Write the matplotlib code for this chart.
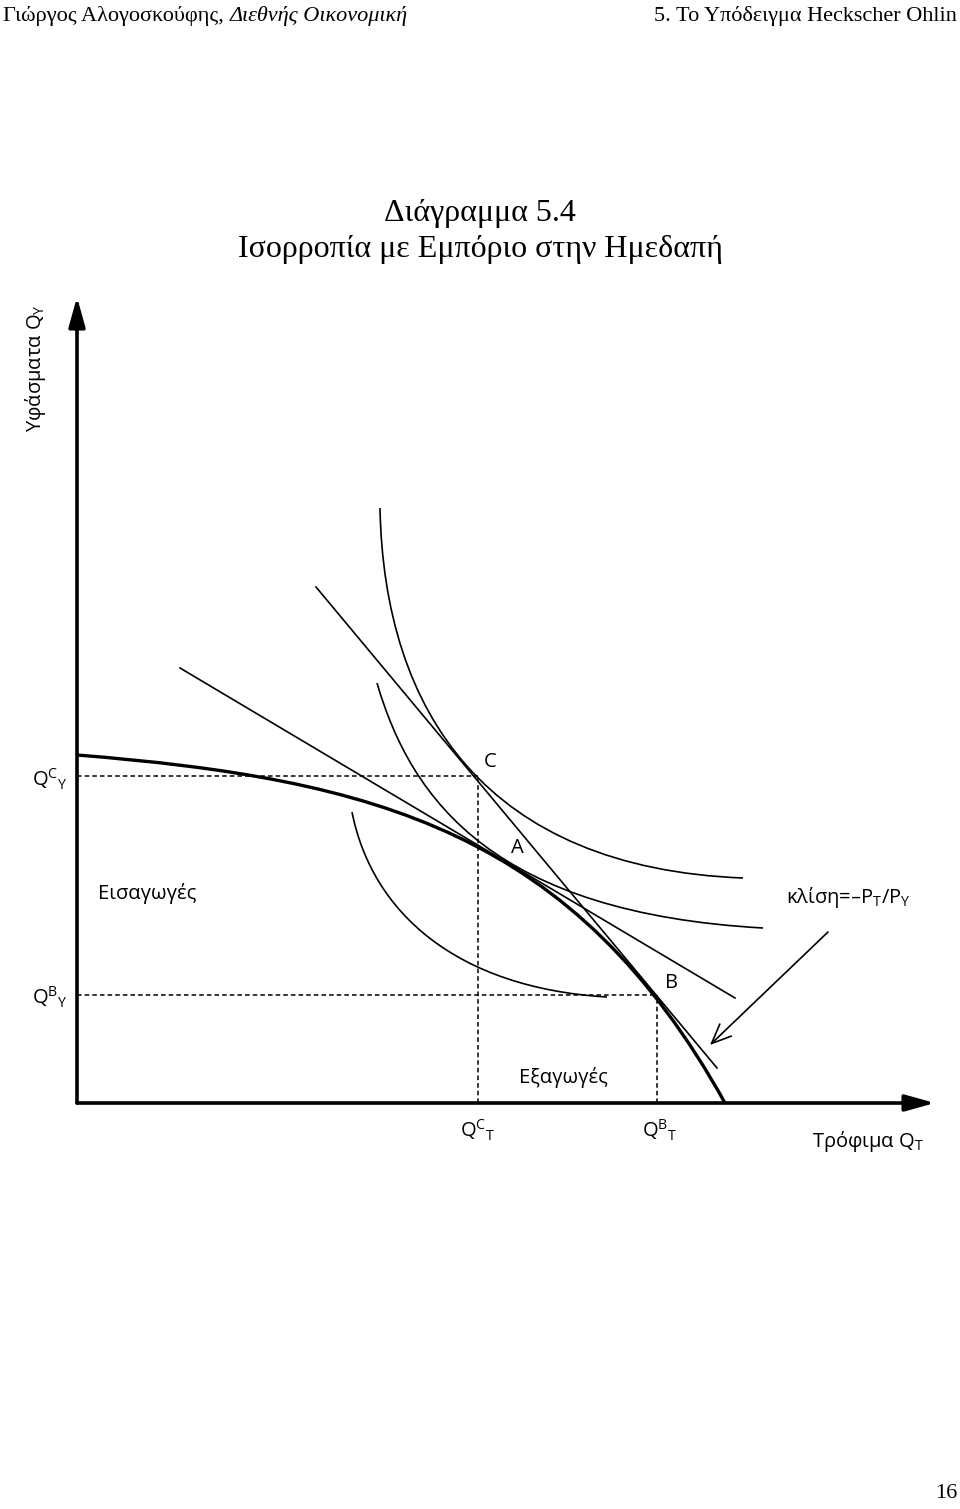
import matplotlib
matplotlib.use("Agg")
import matplotlib.pyplot as plt
from matplotlib.path import Path
from matplotlib.patches import PathPatch

# ---------------- data (schematic units: Q_T horizontal, Q_Y vertical) ----------------
ppf_ctrl = [(0.0, 3.48), (3.0, 3.24), (4.98, 2.70), (6.48, 0.0)]          # production possibility frontier
ic1_ctrl = [(3.03, 5.95), (3.07, 3.90), (4.10, 2.35), (6.66, 2.25)]       # indifference curve through C
ic2_ctrl = [(3.00, 4.20), (3.35, 3.00), (4.20, 1.90), (6.86, 1.75)]       # indifference curve through A
ic3_ctrl = [(2.75, 2.91), (2.95, 1.90), (3.80, 1.15), (5.30, 1.06)]       # lower indifference curve
price_autarky = [(1.03, 4.35), (6.58, 1.05)]
price_trade = [(2.39, 5.16), (6.40, 0.35)]
point_C = (4.01, 3.27)
point_B = (5.80, 1.08)
slope_arrow = [(7.51, 1.71), (6.33, 0.58)]
x_axis_end = 8.58
y_axis_end = 8.06

header_left = "Γιώργος Αλογοσκούφης, "
header_left_it = "Διεθνής Οικονομική"
header_right = "5. Το Υπόδειγμα Heckscher Ohlin"
title1 = "Διάγραμμα 5.4"
title2 = "Ισορροπία με Εμπόριο στην Ημεδαπή"
page_no = "16"

SERIF = ["Liberation Serif", "DejaVu Serif"]
SANS = ["Open Sans", "DejaVu Sans"]

W, H = 960, 1509
fig = plt.figure(figsize=(W / 100, H / 100), dpi=100)
fig.patch.set_facecolor("white")

ax = fig.add_axes([77 / W, (H - 1103) / H, 883 / W, 813 / H])
ax.set_xlim(0, 8.83)
ax.set_ylim(0, 8.13)
ax.axis("off")


def bezier(ctrl, lw):
    path = Path(ctrl, [Path.MOVETO, Path.CURVE4, Path.CURVE4, Path.CURVE4])
    ax.add_patch(PathPatch(path, facecolor="none", edgecolor="black", lw=lw,
                           capstyle="butt", clip_on=False))


# axes with arrows
ax.annotate("", xy=(x_axis_end, 0), xytext=(0, 0), annotation_clip=False,
            arrowprops=dict(arrowstyle="-|>,head_length=0.9,head_width=0.25",
                            lw=2.6, color="black", shrinkA=0, shrinkB=0, mutation_scale=20))
ax.annotate("", xy=(0, y_axis_end), xytext=(0, 0), annotation_clip=False,
            arrowprops=dict(arrowstyle="-|>,head_length=0.9,head_width=0.25",
                            lw=2.6, color="black", shrinkA=0, shrinkB=0, mutation_scale=20))

# dashed guides
dash = dict(color="black", lw=1.1, ls=(0, (3, 2)))
ax.plot([0, point_C[0]], [point_C[1], point_C[1]], **dash)
ax.plot([point_C[0], point_C[0]], [0, point_C[1]], **dash)
ax.plot([0, point_B[0]], [point_B[1], point_B[1]], **dash)
ax.plot([point_B[0], point_B[0]], [0, point_B[1]], **dash)

# curves
bezier(ppf_ctrl, 2.4)
bezier(ic1_ctrl, 1.2)
bezier(ic2_ctrl, 1.2)
bezier(ic3_ctrl, 1.2)

# price lines
ax.plot(*zip(*price_autarky), color="black", lw=1.2, clip_on=False)
ax.plot(*zip(*price_trade), color="black", lw=1.2, clip_on=False)

# slope arrow
ax.annotate("", xy=slope_arrow[1], xytext=slope_arrow[0], annotation_clip=False,
            arrowprops=dict(arrowstyle="->,head_length=0.7,head_width=0.3", lw=1.2,
                            color="black", shrinkA=0, shrinkB=0, mutation_scale=20))

# labels
fs = 14.5
ax.text(4.07, 3.41, "C", fontsize=fs, family=SANS, ha="left", va="center")
ax.text(4.34, 2.55, "A", fontsize=fs, family=SANS, ha="left", va="center")
ax.text(5.88, 1.20, "B", fontsize=fs, family=SANS, ha="left", va="center")
ax.text(0.70, 2.10, "Εισαγωγές", fontsize=fs, family=SANS, ha="center", va="center")
ax.text(4.86, 0.25, "Εξαγωγές", fontsize=fs, family=SANS, ha="center", va="center")
ax.text(7.71, 2.05, r"κλίση=–P$_{\mathregular{T}}$/P$_{\mathregular{Y}}$", fontsize=fs,
        family=SANS, ha="center", va="center")
ax.text(4.01, -0.27, r"Q$^{\mathregular{C}}{}_{\mathregular{T}}$", fontsize=fs, family=SANS,
        ha="center", va="center")
ax.text(5.83, -0.27, r"Q$^{\mathregular{B}}{}_{\mathregular{T}}$", fontsize=fs, family=SANS,
        ha="center", va="center")
ax.text(7.91, -0.39, r"Τρόφιμα Q$_{\mathregular{T}}$", fontsize=fs, family=SANS,
        ha="center", va="center")
ax.text(-0.27, 3.24, r"Q$^{\mathregular{C}}{}_{\mathregular{Y}}$", fontsize=fs, family=SANS,
        ha="center", va="center")
ax.text(-0.27, 1.06, r"Q$^{\mathregular{B}}{}_{\mathregular{Y}}$", fontsize=fs, family=SANS,
        ha="center", va="center")
ax.text(-0.42, 7.35, r"Υφάσματα Q$_{\mathregular{Y}}$", fontsize=fs, family=SANS,
        ha="center", va="center", rotation=90)

# page header
hfs = 16
t1 = fig.text(3 / W, 1 - 16 / H, header_left, fontsize=hfs, family=SERIF, ha="left", va="center")
renderer = fig.canvas.get_renderer()
bb = t1.get_window_extent(renderer)
fig.text(bb.x1 / W, 1 - 16 / H, header_left_it, fontsize=hfs, family=SERIF, style="italic",
         ha="left", va="center")
fig.text(957 / W, 1 - 16 / H, header_right, fontsize=hfs, family=SERIF, ha="right", va="center")

# title
fig.text(0.5, 1 - 214 / H, title1, fontsize=23, family=SERIF, ha="center", va="center")
fig.text(0.5, 1 - 250 / H, title2, fontsize=23, family=SERIF, ha="center", va="center")

fig.text(946 / W, 1 - 1494 / H, page_no, fontsize=16, family=SERIF, ha="center", va="center")

fig.savefig("out.png", dpi=100, facecolor="white")
